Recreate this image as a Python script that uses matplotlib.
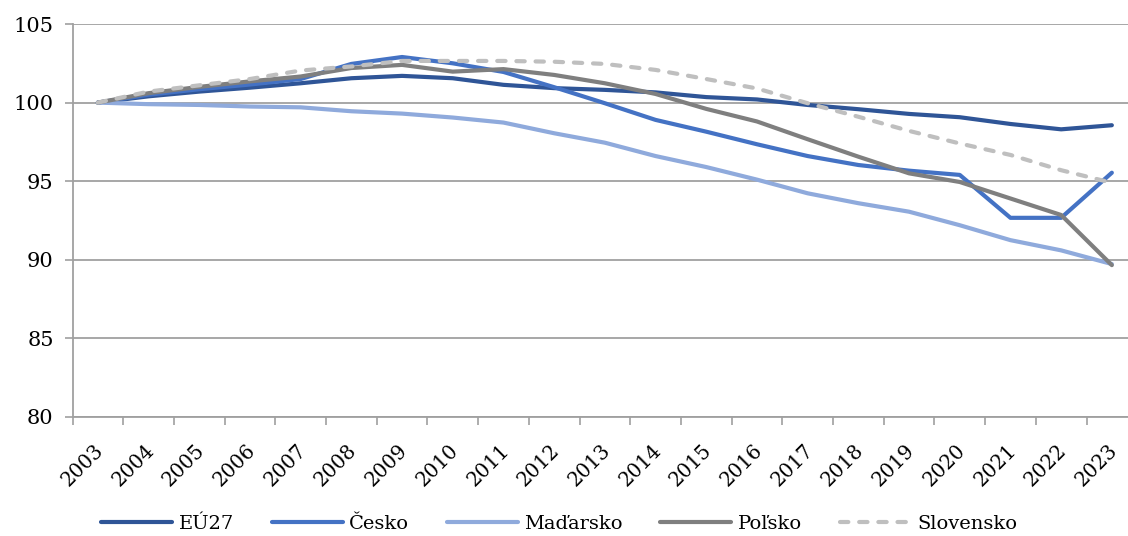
import matplotlib
matplotlib.use("Agg")
import matplotlib.pyplot as plt
import matplotlib.transforms as mtransforms
from matplotlib.ticker import FixedLocator

years = [str(y) for y in range(2003, 2024)]
eu27 = [100, 100.4, 100.7, 100.95, 101.23, 101.55, 101.7, 101.55, 101.13, 100.92, 100.81,
        100.65, 100.35, 100.2, 99.85, 99.58, 99.28, 99.07, 98.64, 98.3, 98.56]
cesko = [100, 100.5, 100.85, 101.15, 101.5, 102.46, 102.9, 102.5, 101.95, 100.98, 99.96,
         98.9, 98.15, 97.35, 96.6, 96.03, 95.67, 95.4, 92.67, 92.67, 95.54]
madarsko = [100, 99.9, 99.85, 99.75, 99.7, 99.45, 99.3, 99.05, 98.73, 98.05, 97.45,
            96.6, 95.9, 95.1, 94.23, 93.6, 93.06, 92.2, 91.25, 90.6, 89.73]
polsko = [100, 100.6, 101.0, 101.35, 101.66, 102.2, 102.4, 101.97, 102.13, 101.76, 101.23,
          100.55, 99.6, 98.8, 97.67, 96.56, 95.5, 94.95, 93.9, 92.85, 89.66]
slovensko = [100, 100.7, 101.1, 101.5, 102.04, 102.3, 102.65, 102.65, 102.65, 102.6, 102.46,
             102.08, 101.5, 100.9, 99.96, 99.1, 98.2, 97.4, 96.67, 95.7, 94.9]

series = [
    ("EÚ27", eu27, "#2F5597", "-"),
    ("Česko", cesko, "#4472C4", "-"),
    ("Maďarsko", madarsko, "#8FAADC", "-"),
    ("Poľsko", polsko, "#7F7F7F", "-"),
    ("Slovensko", slovensko, "#BFBFBF", "--"),
]

plt.rcParams['font.family'] = ['DejaVu Serif']
fig = plt.figure(figsize=(11.28, 5.36), dpi=100)
W, H = 1128, 536
x0, x1 = 72.5, 72.5 + 21 * 50.7
y_top, y_bot = 24, 417
ax = fig.add_axes([x0 / W, 1 - y_bot / H, (x1 - x0) / W, (y_bot - y_top) / H])

x = list(range(len(years)))
for name, vals, col, ls in series:
    kw = dict(dashes=(2.0, 2.6)) if ls == "--" else {}
    ax.plot(x, vals, color=col, lw=3.0, label=name,
            solid_capstyle='round', dash_capstyle='round', **kw)

ax.set_xlim(-0.5, len(years) - 0.5)
ax.set_ylim(80, 105)
ax.set_yticks([80, 85, 90, 95, 100, 105])
ax.yaxis.grid(True, color='#A0A0A0', lw=1.3)
ax.set_axisbelow(True)

ax.set_xticks(x)
ax.set_xticklabels(years, rotation=45, ha='right', va='top', rotation_mode='anchor',
                   fontsize=14.3)
ax.tick_params(axis='x', which='major', length=0, pad=17)
offset = mtransforms.ScaledTranslation(-4 / 100, 0, fig.dpi_scale_trans)
for lab in ax.get_xticklabels():
    lab.set_transform(lab.get_transform() + offset)
ax.xaxis.set_minor_locator(FixedLocator([i - 0.5 for i in range(len(years) + 1)]))
ax.tick_params(axis='x', which='minor', length=5.5, width=1.2, color='#A0A0A0', direction='out')
ax.tick_params(axis='y', length=5.5, width=1.2, color='#A0A0A0', labelsize=15, pad=8)

for s in ['top', 'right']:
    ax.spines[s].set_visible(False)
for s in ['left', 'bottom']:
    ax.spines[s].set_color('#A0A0A0')
    ax.spines[s].set_linewidth(1.3)

leg = fig.legend(loc='center', bbox_to_anchor=(0.4957, 1 - 524 / H), ncol=5, frameon=False,
                 fontsize=14, handlelength=3.65, handletextpad=0.32, columnspacing=1.95)

fig.savefig("out.png", dpi=100)
